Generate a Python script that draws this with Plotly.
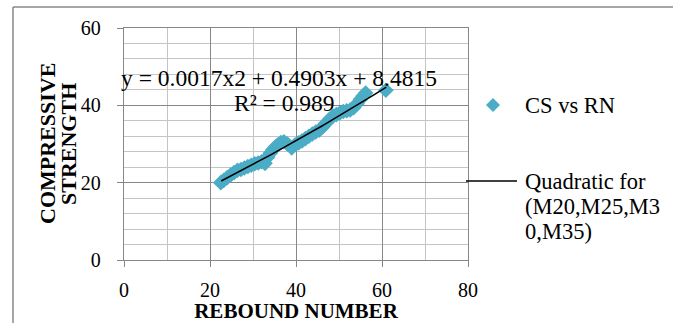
import numpy as np
import plotly.graph_objects as go

# ---- data ----
rebound_number = [22.5, 23.2, 24.0, 24.8, 25.6, 26.4, 27.2, 28.0, 28.8, 29.6, 30.4, 31.2, 32.0, 32.8,
                  33.4, 34.0, 34.6, 35.2, 35.8, 36.5, 37.2, 38.0, 39.0, 39.8, 40.6, 41.4, 42.2, 43.0,
                  43.8, 44.6, 45.4, 46.2, 47.0, 47.8, 48.6, 49.4, 50.2, 51.0, 51.8, 52.6, 53.4, 54.2,
                  55.0, 55.6, 56.2, 60.9]
compressive_strength = [20.0, 20.6, 21.3, 22.0, 22.6, 23.2, 23.4, 23.8, 24.2, 24.5, 24.9, 25.1, 25.4, 25.0,
                        26.6, 27.6, 28.5, 29.2, 29.8, 30.4, 30.6, 30.0, 29.0, 29.8, 30.3, 30.8, 31.4, 32.0,
                        32.6, 33.1, 33.6, 34.4, 35.4, 36.4, 37.2, 37.6, 38.0, 38.4, 38.6, 38.8, 39.4, 40.4,
                        41.6, 42.4, 43.2, 43.9]
trend_coefficients = [0.0017, 0.4903, 8.4815]   # a*x^2 + b*x + c, as printed on the chart
trend_x_range = [22.6, 61.0]
x_ticks = [0, 20, 40, 60, 80]
y_ticks = [0, 20, 40, 60]

series_name = "CS vs RN"
trend_name = "Quadratic for (M20,M25,M30,M35)"
trend_legend_lines = ["Quadratic for", "(M20,M25,M3", "0,M35)"]
y_title_lines = ["COMPRESSIVE", "STRENGTH"]
x_title = "REBOUND NUMBER"
equation_text = "y = 0.0017x2 + 0.4903x + 8.4815"
r2_text = "R² = 0.989"

# ---- layout helpers (pixel -> paper) ----
W, H = 673, 323
L, R, T, B = 124, 468, 28, 260


def px(x):
    return (x - L) / (R - L)


def py(y):
    return (B - y) / (B - T)


FONT = "Liberation Serif"
MAJOR = "#878787"
MINOR = "#C4C4C4"
TEAL = "#4BACC6"

a, b, c = trend_coefficients
tx = np.linspace(trend_x_range[0], trend_x_range[1], 60)
ty = a * tx ** 2 + b * tx + c

fig = go.Figure()
fig.add_trace(go.Scatter(x=rebound_number, y=compressive_strength, mode="markers", name=series_name,
                         marker=dict(symbol="diamond", size=12, color=TEAL, line=dict(width=0)),
                         showlegend=False))
fig.add_trace(go.Scatter(x=tx, y=ty, mode="lines", name=trend_name,
                         line=dict(color="black", width=1.5), showlegend=False))

axis_common = dict(showline=True, linecolor=MAJOR, linewidth=1.3, mirror=True,
                   gridcolor=MAJOR, gridwidth=1.3, zeroline=False,
                   ticks="outside", ticklen=6, tickcolor=MAJOR, tickwidth=1.3,
                   tickfont=dict(family=FONT, size=20, color="black"), automargin=False)

fig.update_xaxes(range=[0, 80], tickvals=x_ticks, ticktext=[str(v) for v in x_ticks],
                 minor=dict(dtick=10, tick0=0, showgrid=True, gridcolor=MINOR, gridwidth=1.2, ticks=""),
                 ticklabelstandoff=6,
                 title=dict(text="<b>" + x_title + "</b>", font=dict(family=FONT, size=21, color="black"),
                            standoff=0),
                 **axis_common)
fig.update_yaxes(range=[0, 60], tickvals=y_ticks, ticktext=[str(v) for v in y_ticks],
                 minor=dict(dtick=4, tick0=0, showgrid=True, gridcolor=MINOR, gridwidth=1.2, ticks=""),
                 ticklabelstandoff=12,
                 **axis_common)

annotations = [
    dict(text=equation_text, x=px(279), y=py(78), xanchor="center", yanchor="middle", size=23.5),
    dict(text=r2_text, x=px(284), y=py(103), xanchor="center", yanchor="middle", size=23.5),
    dict(text=series_name, x=px(523), y=py(105), xanchor="left", yanchor="middle", size=22.5),
    dict(text=trend_legend_lines[0], x=px(523), y=py(181), xanchor="left", yanchor="middle", size=22.5),
    dict(text=trend_legend_lines[1], x=px(523), y=py(206), xanchor="left", yanchor="middle", size=22.5),
    dict(text=trend_legend_lines[2], x=px(523), y=py(231), xanchor="left", yanchor="middle", size=22.5),
    dict(text="<b>" + y_title_lines[0] + "</b>", x=px(47), y=py(144), xanchor="center", yanchor="middle",
         size=22, textangle=-90),
    dict(text="<b>" + y_title_lines[1] + "</b>", x=px(68), y=py(144), xanchor="center", yanchor="middle",
         size=22, textangle=-90),
]
for an in annotations:
    size = an.pop("size")
    an.update(xref="paper", yref="paper", showarrow=False,
              font=dict(family=FONT, size=size, color="black"))
fig.update_layout(annotations=annotations)

# legend glyphs and outer chart border
d = 7
cx, cy = 493, 105
diamond = (f"M {px(cx - d)},{py(cy)} L {px(cx)},{py(cy - d)} L {px(cx + d)},{py(cy)} "
           f"L {px(cx)},{py(cy + d)} Z")
shapes = [
    dict(type="path", path=diamond, xref="paper", yref="paper", fillcolor=TEAL, line=dict(width=0)),
    dict(type="line", x0=px(466), x1=px(517), y0=py(181), y1=py(181), xref="paper", yref="paper",
         line=dict(color="black", width=1.5)),
    dict(type="line", x0=px(13), x1=px(13), y0=py(7), y1=py(330), xref="paper", yref="paper",
         line=dict(color="#888888", width=1.5)),
    dict(type="line", x0=px(13), x1=px(680), y0=py(7), y1=py(7), xref="paper", yref="paper",
         line=dict(color="#888888", width=1.5)),
]
fig.update_layout(shapes=shapes)

fig.update_layout(width=W, height=H, margin=dict(l=L, r=W - R, t=T, b=H - B, autoexpand=False),
                  paper_bgcolor="white", plot_bgcolor="white", showlegend=False,
                  font=dict(family=FONT, color="black"))

fig.write_html("out.html", config={"displayModeBar": False},
               post_script="document.body.style.margin='0';document.body.style.overflow='hidden';")
